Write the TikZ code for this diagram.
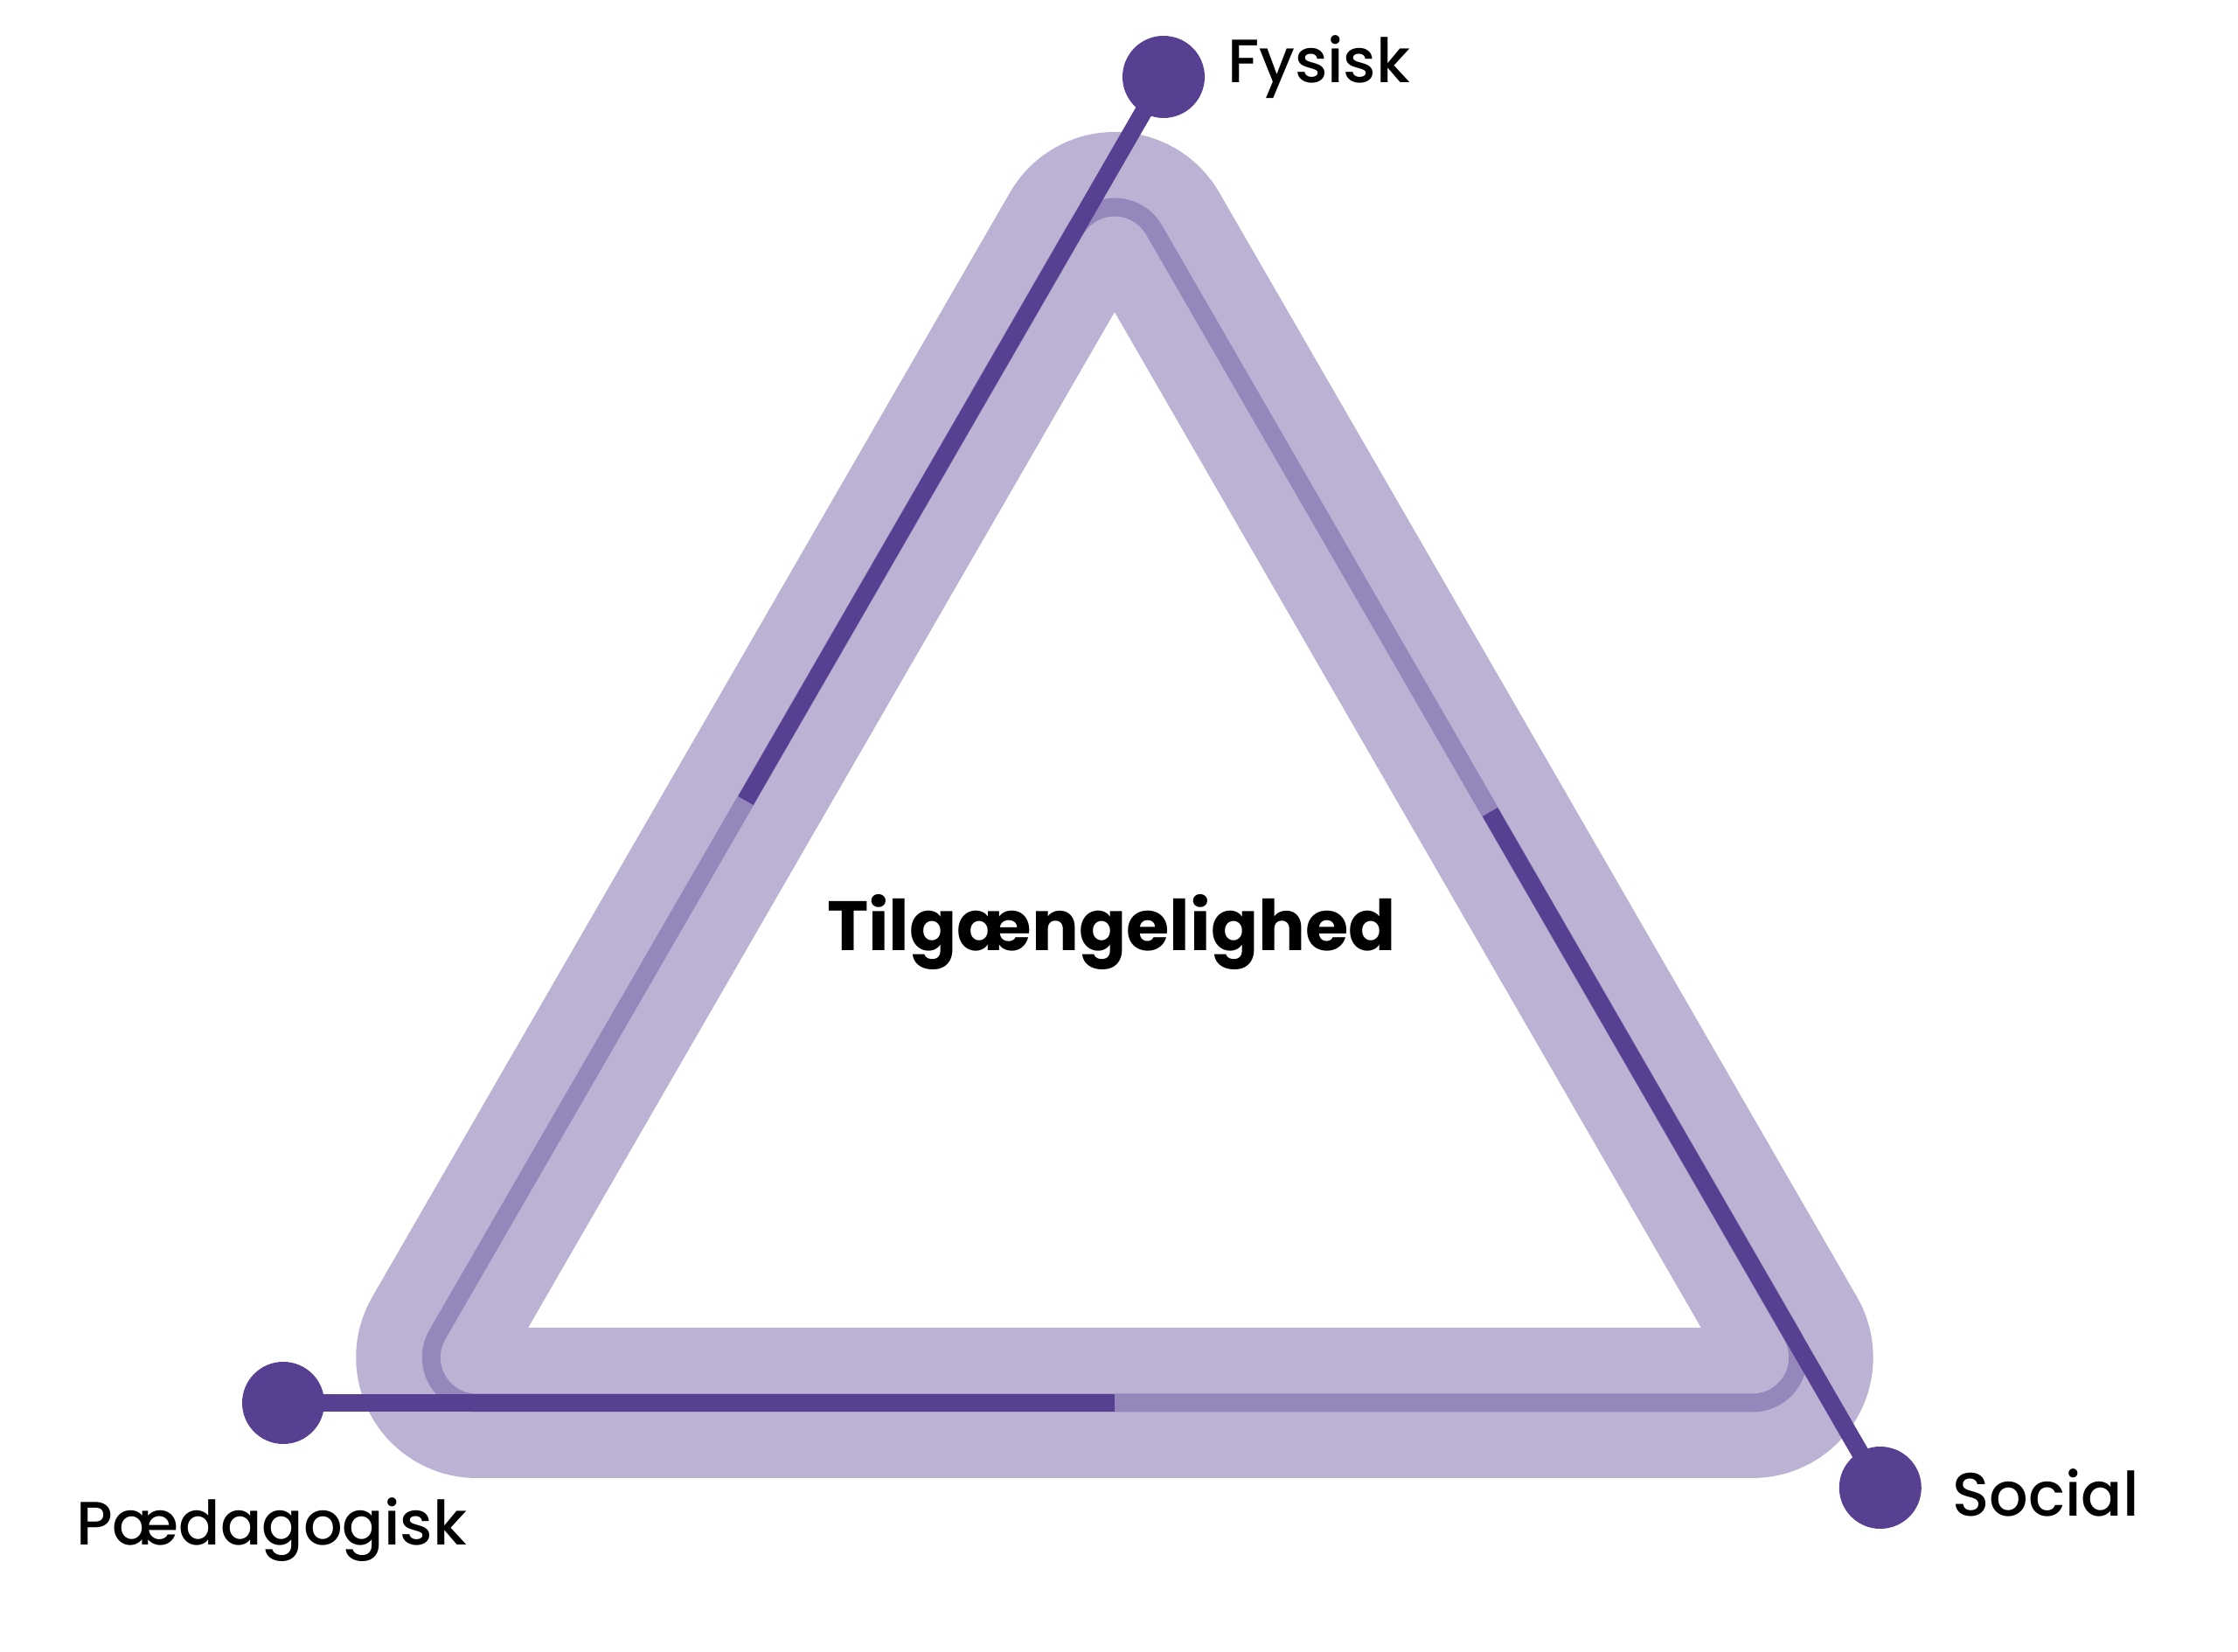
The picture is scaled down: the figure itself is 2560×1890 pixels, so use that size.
\documentclass[tikz,border=0pt]{standalone}
\usepackage{fontspec}
\setmainfont{Poppins}
\newfontfamily\labelfont{Poppins}[UprightFont={* Medium}]
\definecolor{bandlight}{RGB}{187,178,212}
\definecolor{bandmid}{RGB}{149,135,187}
\definecolor{bandDark}{RGB}{87,63,145}
\begin{document}
\begin{tikzpicture}[x=1pt,y=1pt,
  band/.style={line width=172pt, draw=bandlight, line join=round},
  midline/.style={line width=21pt, draw=bandmid, line join=round},
  darkline/.style={line width=20pt, draw=bandDark, line cap=butt},
  dot/.style={circle, fill=bandDark, minimum size=94pt, inner sep=0pt, draw=none},
  lbl/.style={font=\labelfont\fontsize{70}{80}\selectfont, text=black, inner sep=0pt},
  title/.style={font=\fontsize{80}{90}\selectfont\bfseries, text=black, inner sep=0pt}]
\useasboundingbox[fill=white] (0,0) rectangle (2560,1890);
% rounded triangle path: band and middle line
\def\tri{(545.3,285) -- (2004.7,285) arc[start angle=-90, end angle=30, radius=52pt]
  -- (1320.0,1627) arc[start angle=30, end angle=150, radius=52pt]
  -- (500.2,363) arc[start angle=150, end angle=270, radius=52pt] -- cycle}
\draw[band] \tri;
\draw[midline] \tri;
% dots and end points
\node[dot] (fys) at (1331.0,1802) {};
\node[dot] (paed) at (324,285) {};
\node[dot] (soc) at (2150.8,188) {};
\coordinate (fysend) at (853.0,974);
\coordinate (socend) at (1704.5,961);
\coordinate (paedend) at (1275,285);
\draw[darkline] (fys.center) -- (fysend);
\draw[darkline] (soc.center) -- (socend);
\draw[darkline] (paed.center) -- (paedend);
% labels
\node[lbl, anchor=base west] (fyslbl) at (1404,1795) {Fysisk};
\node[lbl, anchor=base west] (paedlbl) at (87,122) {Pædagogisk};
\node[lbl, anchor=base west] (soclbl) at (2233,155) {Social};
\node[title, anchor=base] (center) at (1271.5,802) {Tilgængelighed};
\end{tikzpicture}
\end{document}
